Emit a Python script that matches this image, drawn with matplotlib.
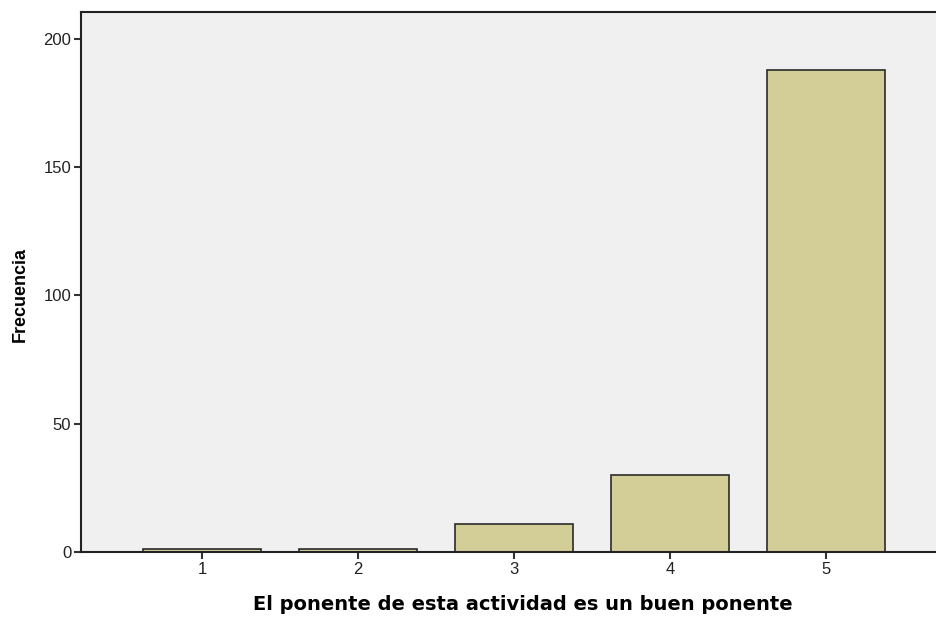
import matplotlib
matplotlib.use("Agg")
import matplotlib.pyplot as plt

# valores
categorias = [1, 2, 3, 4, 5]
frecuencias = [1, 1, 11, 30, 188]
etiquetas_y = [0, 50, 100, 150, 200]

plt.rcParams['font.family'] = ['Liberation Sans', 'DejaVu Sans']

fig = plt.figure(figsize=(9.37, 6.24), dpi=100)
ax = fig.add_axes([81 / 937, 72 / 624, 1 - 81 / 937, 540 / 624])
ax.set_facecolor('#F0F0F0')

ax.bar(categorias, frecuencias, width=0.755, color='#D3CE97',
       edgecolor='#2B2B2B', linewidth=1.2, zorder=2)

ax.set_xlim(0.224, 5.71)
ax.set_ylim(0, 210.5)
ax.set_xticks(categorias)
ax.set_yticks(etiquetas_y)
ax.tick_params(axis='both', direction='out', length=5, width=1.5,
               color='#333333', labelsize=12, labelcolor='#222222', pad=2)

for lado in ['left', 'bottom', 'top']:
    ax.spines[lado].set_color('#222222')
    ax.spines[lado].set_linewidth(1.5)
ax.spines['right'].set_visible(False)

ax.set_xlabel('El ponente de esta actividad es un buen ponente',
              fontsize=14, fontweight='bold', family=['DejaVu Sans'])
ax.xaxis.label.set_va('center')
ax.xaxis.set_label_coords(0.516, -0.098)

ax.set_ylabel('Frecuencia', fontsize=13, fontweight='bold')
ax.yaxis.label.set_va('center')
ax.yaxis.set_label_coords(-0.071, 0.476)

fig.savefig('out.png', dpi=100)
